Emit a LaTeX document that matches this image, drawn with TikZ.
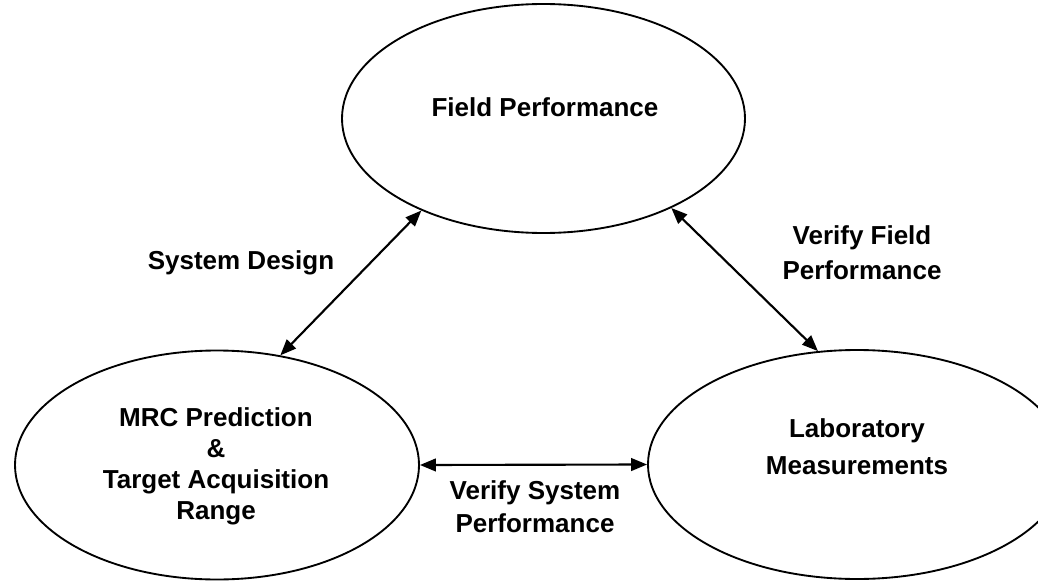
\documentclass[tikz,border=0pt]{standalone}
\usepackage{fontspec}
\setmainfont{Liberation Sans}
\usetikzlibrary{shapes.geometric,arrows.meta}
\tikzset{
  oval/.style={draw=black, line width=1.4pt, ellipse, inner sep=0pt},
  lbl/.style={align=center, inner sep=0pt, font=\bfseries},
  link/.style={line width=1.6pt, {Triangle[length=12pt,width=9.5pt]}-{Triangle[length=12pt,width=9.5pt]}, shorten <=0pt, shorten >=0pt}
}
\begin{document}
\begin{tikzpicture}[x=0.75pt,y=-0.75pt]
\useasboundingbox (0,0) rectangle (1038,581);
\clip (0,0) rectangle (1038,581);
% ovals
\node[oval, minimum width=403*0.75pt, minimum height=229*0.75pt] (F) at (543.5,118.5) {};
\node[oval, minimum width=404*0.75pt, minimum height=229*0.75pt] (M) at (217,465) {};
\node[oval, minimum width=418*0.75pt, minimum height=229*0.75pt] (L) at (857,464.5) {};
% oval texts
\node[lbl, font=\bfseries\fontsize{19.5}{23.4}\selectfont] (Ft) at (545,107) {Field Performance};
\node[lbl, font=\bfseries\fontsize{19.5}{23.25}\selectfont] (Mt) at (216,466.5) {MRC Prediction\\\&\\Target Acquisition\\Range};
\node[lbl, font=\bfseries\fontsize{19.5}{27.75}\selectfont] (Lt) at (857,446.5) {Laboratory\\Measurements};
% connectors
\draw[link] (M.60.2) -- (F.217.6);
\draw[link] (F.325.8) -- (L.109.3);
\draw[link] (M.east) -- (L.west);
% connector labels
\node[lbl, font=\bfseries\fontsize{19.5}{23.4}\selectfont] (sd) at (241,263) {System Design};
\node[lbl, font=\bfseries\fontsize{19.5}{26.25}\selectfont] (vf) at (862,252.5) {Verify Field\\Performance};
\node[lbl, font=\bfseries\fontsize{19.5}{24.75}\selectfont] (vs) at (535,506.5) {Verify System\\Performance};
\end{tikzpicture}
\end{document}
